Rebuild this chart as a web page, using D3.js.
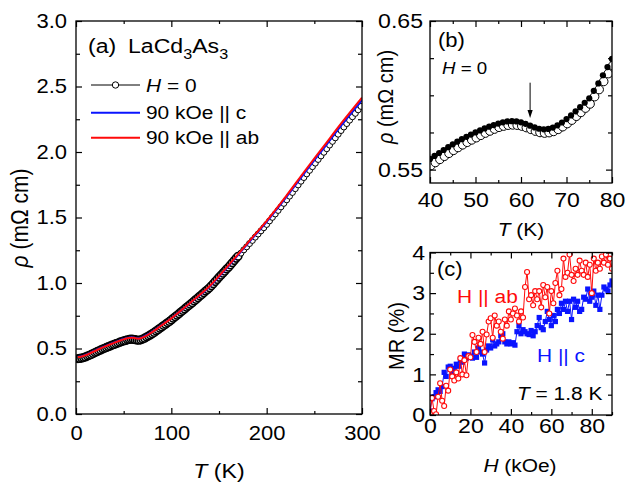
<!doctype html>
<html>
  <head>
    <script src="https://cdnjs.cloudflare.com/ajax/libs/d3/7.8.5/d3.min.js"></script>
    <style>
      body { margin: 0; background: #fff; }
      svg { display: block; }
    </style>
  </head>
  <body>
    <svg id="fig" width="626" height="485"></svg>
    <script>
      // ---- panel (a): rho(T) from 2 to 300 K ----
      var tZeroLow = d3.range(2, 171, 2);
      var rhoZeroLow = [
        .423, .424, .427, .431, .436, .442, .448, .455, .462, .469,
        .476, .483, .489, .496, .502, .508, .514, .520, .526, .531,
        .537, .542, .548, .553, .558, .562, .566, .569, .571, .570,
        .567, .564, .563, .566, .572, .579, .587, .595, .604, .613,
        .623, .633, .644, .654, .665, .675, .686, .696, .707, .718,
        .730, .742, .754, .766, .778, .790, .802, .814, .826, .838,
        .850, .863, .875, .888, .900, .913, .925, .938, .950, .963,
        .979, .995, 1.011, 1.027, 1.043, 1.059, 1.075, 1.090, 1.106, 1.121,
        1.138, 1.154, 1.171, 1.188, 1.204];
      var tZeroHigh = d3.range(173, 300, 3);
      var rhoZeroHigh = [
        1.228, 1.253, 1.276, 1.301, 1.325, 1.350, 1.374, 1.398, 1.422, 1.447,
        1.474, 1.501, 1.527, 1.554, 1.581, 1.608, 1.635, 1.663, 1.691, 1.720,
        1.749, 1.777, 1.805, 1.833, 1.860, 1.888, 1.915, 1.943, 1.970, 1.998,
        2.025, 2.053, 2.081, 2.108, 2.136, 2.164, 2.191, 2.217, 2.243, 2.269,
        2.295, 2.322, 2.348];

      var tField = [2, 5, 10, 15, 20, 25, 30, 35, 40, 45, 50, 55, 58, 60, 62, 64, 66, 68, 70, 75,
                    80, 90, 100, 120, 140, 160, 180, 200, 220, 240, 260, 280, 300];
      var rhoAb = [.435, .437, .448, .464, .481, .498, .514, .529, .543, .557, .570, .580, .583,
                   .582, .579, .576, .575, .578, .584, .603, .625, .677, .730, .850, .975, 1.135,
                   1.305, 1.475, 1.660, 1.855, 2.045, 2.235, 2.415];
      var rhoC = [.437, .439, .450, .466, .483, .500, .516, .531, .545, .559, .572, .582, .585,
                  .584, .581, .578, .577, .580, .586, .605, .627, .679, .731, .849, .972, 1.130,
                  1.298, 1.466, 1.649, 1.842, 2.030, 2.218, 2.395];

      // ---- panel (b): zoom 40-80 K, H = 0, two sweeps ----
      var tB = d3.range(40, 81);
      var rhoOpen = [
        .5527, .5548, .5569, .5590, .5610, .5630, .5649, .5667, .5684, .5700,
        .5715, .5731, .5746, .5760, .5773, .5785, .5793, .5799, .5801, .5799,
        .5793, .5783, .5771, .5759, .5750, .5746, .5749, .5757, .5771, .5789,
        .5810, .5833, .5859, .5885, .5914, .5942, .5991, .6039, .6093, .6146, .6200];
      var rhoFilled = [
        .5572, .5592, .5612, .5632, .5651, .5670, .5688, .5705, .5721, .5736,
        .5750, .5764, .5777, .5789, .5800, .5810, .5818, .5824, .5826, .5824,
        .5818, .5808, .5796, .5784, .5775, .5771, .5774, .5783, .5798, .5817,
        .5840, .5865, .5892, .5920, .5950, .5980, .6030, .6080, .6135, .6190, .6245];
      var arrowT = 62, arrowFrom = 0.6085, arrowTo = 0.5848;

      // ---- panel (c): MR(H) at 1.8 K ----
      var hC = d3.range(0, 91);
      var mrAb = [
        0.05, 0.42, 0.10, 0.02, 0.45, 0.78, 0.35, 0.22, 0.72, 0.60,
        1.12, 0.95, 0.85, 1.05, 0.90, 1.40, 1.00, 1.35, 0.98, 1.45,
        1.42, 1.97, 1.80, 1.55, 1.90, 1.75, 2.05, 1.55, 1.98, 2.30,
        2.38, 1.90, 2.45, 2.20, 2.30, 2.05, 1.88, 2.35, 2.20, 2.55,
        2.35, 2.50, 2.62, 2.45, 2.30, 2.55, 2.40, 3.15, 3.52, 2.85,
        2.95, 2.70, 3.05, 2.85, 3.05, 2.65, 3.20, 2.90, 3.15, 2.50,
        3.05, 2.75, 3.25, 3.55, 2.95, 3.10, 3.85, 3.40, 3.50, 3.95,
        3.45, 3.30, 3.60, 3.45, 3.80, 3.55, 3.45, 3.75, 3.40, 3.70,
        3.00, 3.85, 3.55, 3.75, 3.60, 3.90, 3.75, 3.95, 3.70, 3.85, 3.60];
      var mrC = [
        0.10, 0.40, 0.45, 0.55, 0.62, 0.58, 0.70, 1.05, 0.95, 1.18,
        1.20, 1.05, 1.15, 1.25, 1.20, 1.35, 1.30, 1.50, 1.40, 1.48,
        1.45, 1.40, 1.55, 1.42, 1.65, 1.55, 1.50, 1.28, 1.60, 1.70,
        1.65, 1.85, 1.70, 1.75, 1.80, 1.95, 2.00, 1.80, 1.75, 1.80,
        1.75, 1.78, 1.72, 2.05, 2.20, 2.00, 2.10, 2.05, 2.00, 1.98,
        2.08, 1.95, 2.05, 2.20, 2.40, 2.15, 2.10, 2.30, 2.55, 2.35,
        2.20, 2.45, 2.30, 2.60, 2.50, 2.75, 2.60, 2.80, 2.55, 2.80,
        2.35, 2.85, 2.65, 2.80, 2.55, 2.60, 2.90, 2.85, 3.10, 2.80,
        2.90, 3.05, 2.70, 2.95, 2.60, 2.95, 3.15, 3.10, 3.05, 3.20, 3.30];

      var RED = "#ff0a0a", BLUE = "#0a14ff";
      var FONT = "'Liberation Sans', Arial, Helvetica, sans-serif";
      var SX = 1.1; // the original figure is slightly stretched sideways

      var svg = d3.select("#fig");
      svg.append("rect").attr("width", 626).attr("height", 485).attr("fill", "#fff");

      var xa = d3.scaleLinear().domain([0, 300]).range([76, 362]);
      var ya = d3.scaleLinear().domain([0, 3]).range([414, 21]);
      var xb = d3.scaleLinear().domain([40, 80]).range([430, 612]);
      var yb = d3.scaleLinear().domain([0.541, 0.65]).range([183, 21]);
      var xc = d3.scaleLinear().domain([0, 90]).range([430, 612]);
      var yc = d3.scaleLinear().domain([0, 4]).range([415, 252.5]);

      function stretchTicks(sel) {
        sel.selectAll(".tick text").each(function() {
          var t = d3.select(this);
          var x = +t.attr("x") || 0, y = +t.attr("y") || 0;
          t.attr("x", null).attr("y", null)
            .attr("transform", "translate(" + x + "," + y + ") scale(" + SX + ",1)");
        });
      }

      function frame(x, y, o) {
        var x0 = x.range()[0], x1 = x.range()[1], y0 = y.range()[0], y1 = y.range()[1];
        var g = svg.append("g");
        function put(axis, tx, ty, labels) {
          var a = g.append("g").attr("transform", "translate(" + tx + "," + ty + ")").call(axis);
          a.select(".domain").remove();
          a.attr("font-family", FONT).attr("font-size", o.fs);
          a.selectAll("line").attr("stroke-width", 1.2);
          if (labels) stretchTicks(a); else a.selectAll("text").remove();
        }
        put(d3.axisBottom(x).tickValues(o.xMajor).tickSize(-6).tickPadding(o.xPad).tickFormat(o.xFmt), 0, y0, true);
        put(d3.axisBottom(x).tickValues(o.xMinor).tickSize(-3), 0, y0, false);
        put(d3.axisTop(x).tickValues(o.xMajor).tickSize(-6), 0, y1, false);
        put(d3.axisTop(x).tickValues(o.xMinor).tickSize(-3), 0, y1, false);
        put(d3.axisLeft(y).tickValues(o.yMajor).tickSize(-6).tickPadding(o.yPad).tickFormat(o.yFmt), x0, 0, true);
        put(d3.axisLeft(y).tickValues(o.yMinor).tickSize(-4), x0, 0, false);
        put(d3.axisRight(y).tickValues(o.yMajor).tickSize(-6), x1, 0, false);
        put(d3.axisRight(y).tickValues(o.yMinor).tickSize(-4), x1, 0, false);
        g.append("rect").attr("x", x0).attr("y", y1).attr("width", x1 - x0).attr("height", y0 - y1)
          .attr("fill", "none").attr("stroke", "#000").attr("stroke-width", 1.3);
      }

      // text with italic / subscript pieces: [["H", "i"], [" = 0"]]
      function txt(x, y, parts, o) {
        o = o || {};
        var fs = o.fs || 20;
        var tr = "translate(" + x + "," + y + ") " +
          (o.rot ? "rotate(-90) scale(1," + SX + ")" : "scale(" + SX + ",1)");
        var t = svg.append("text").attr("transform", tr)
          .attr("font-family", FONT).attr("font-size", fs)
          .attr("text-anchor", o.anchor || "start").attr("fill", o.fill || "#000");
        var shift = 0;
        parts.forEach(function(p) {
          var s = t.append("tspan").text(p[0]);
          var want = 0;
          if (p[1] === "i") s.attr("font-style", "italic");
          if (p[1] === "sub") { s.attr("font-size", fs * 0.7); want = fs * 0.28; }
          if (want !== shift) { s.attr("dy", want - shift); shift = want; }
        });
      }

      function clip(id, x, y) {
        svg.append("clipPath").attr("id", id).append("rect")
          .attr("x", x.range()[0]).attr("y", y.range()[1])
          .attr("width", x.range()[1] - x.range()[0]).attr("height", y.range()[0] - y.range()[1]);
        return svg.append("g").attr("clip-path", "url(#" + id + ")");
      }

      // ================= (a) =================
      var zeroA = tZeroLow.map(function(t, i) { return [t, rhoZeroLow[i]]; })
        .concat(tZeroHigh.map(function(t, i) { return [t, rhoZeroHigh[i]]; }));
      var ga = clip("ca", xa, ya);
      ga.selectAll("circle.zero").data(zeroA).enter().append("circle")
        .attr("cx", function(d) { return xa(d[0]); })
        .attr("cy", function(d) { return ya(d[1]); })
        .attr("r", function(d) { return d[0] < 171 ? 3.8 : 3; })
        .attr("fill", "#fff").attr("stroke", "#000")
        .attr("stroke-width", function(d) { return d[0] < 171 ? 1.6 : 1; });

      var lineA = d3.line().curve(d3.curveMonotoneX)
        .x(function(d, i) { return xa(tField[i]); })
        .y(function(d) { return ya(d); });
      ga.append("path").datum(rhoC).attr("d", lineA)
        .attr("fill", "none").attr("stroke", BLUE).attr("stroke-width", 2);
      ga.append("path").datum(rhoAb).attr("d", lineA)
        .attr("fill", "none").attr("stroke", RED).attr("stroke-width", 2);

      frame(xa, ya, {
        fs: 20, xMajor: [0, 100, 200, 300], xMinor: [50, 150, 250], xPad: 12, xFmt: d3.format("d"),
        yMajor: d3.range(0, 3.01, 0.5), yMinor: d3.range(0.25, 3, 0.5), yPad: 9, yFmt: d3.format(".1f")
      });

      txt(88, 53, [["(a)"]], { fs: 21 });
      txt(128, 53, [["LaCd"], ["3", "sub"], ["As"], ["3", "sub"]], { fs: 21 });

      // legend
      var leg = [
        { y: 85, color: "#000", w: 1, parts: [["H", "i"], [" = 0"]] },
        { y: 112.7, color: BLUE, w: 2, parts: [["90 kOe || c"]] },
        { y: 137.7, color: RED, w: 2, parts: [["90 kOe || ab"]] }
      ];
      leg.forEach(function(l, i) {
        svg.append("line").attr("x1", 91).attr("x2", 140).attr("y1", l.y).attr("y2", l.y)
          .attr("stroke", l.color).attr("stroke-width", l.w);
        if (i === 0) svg.append("circle").attr("cx", 115.5).attr("cy", l.y).attr("r", 3.2)
          .attr("fill", "#fff").attr("stroke", "#000");
        txt(146, l.y + 6.6, l.parts, { fs: 19 });
      });

      txt(219, 478, [["T", "i"], [" (K)"]], { fs: 21, anchor: "middle" });
      txt(28, 218, [["\u03c1", "i"], [" (m\u03a9 cm)"]], { fs: 21, anchor: "middle", rot: true });

      // ================= (b) =================
      var gb = clip("cb", xb, yb);
      gb.selectAll("circle.open").data(rhoOpen).enter().append("circle")
        .attr("cx", function(d, i) { return xb(tB[i]) + 0.8; })
        .attr("cy", function(d) { return yb(d); })
        .attr("r", 4.3).attr("fill", "#fff").attr("stroke", "#000").attr("stroke-width", 1);
      gb.selectAll("circle.filled").data(rhoFilled).enter().append("circle")
        .attr("cx", function(d, i) { return xb(tB[i]); })
        .attr("cy", function(d) { return yb(d); })
        .attr("r", 3.1).attr("fill", "#000");

      frame(xb, yb, {
        fs: 21, xMajor: [40, 50, 60, 70, 80], xMinor: [45, 55, 65, 75], xPad: 9, xFmt: d3.format("d"),
        yMajor: [0.55, 0.65], yMinor: [0.575, 0.6, 0.625], yPad: 7, yFmt: d3.format(".2f")
      });

      // arrow marking the anomaly
      var ax = xb(arrowT), ay0 = yb(arrowFrom), ay1 = yb(arrowTo);
      svg.append("line").attr("x1", ax).attr("x2", ax).attr("y1", ay0).attr("y2", ay1 - 6)
        .attr("stroke", "#000").attr("stroke-width", 1);
      svg.append("path")
        .attr("d", "M" + (ax - 2.6) + "," + (ay1 - 8) + "L" + ax + "," + ay1 + "L" + (ax + 2.6) + "," + (ay1 - 8) + "Z")
        .attr("fill", "#000");

      txt(438, 47, [["(b)"]], { fs: 20 });
      txt(442, 74, [["H", "i"], [" = 0"]], { fs: 17 });
      txt(521, 236, [["T", "i"], [" (K)"]], { fs: 19, anchor: "middle" });
      txt(393, 97, [["\u03c1", "i"], [" (m\u03a9 cm)"]], { fs: 20, anchor: "middle", rot: true });

      // ================= (c) =================
      var gc = clip("cc", xc, yc);
      var lineC = d3.line().x(function(d, i) { return xc(hC[i]); }).y(function(d) { return yc(d); });
      gc.append("path").datum(mrC).attr("d", lineC)
        .attr("fill", "none").attr("stroke", BLUE).attr("stroke-width", 1);
      gc.selectAll("rect.sq").data(mrC).enter().append("rect")
        .attr("x", function(d, i) { return xc(hC[i]) - 2.6; })
        .attr("y", function(d) { return yc(d) - 2.6; })
        .attr("width", 5.2).attr("height", 5.2).attr("fill", BLUE);
      gc.append("path").datum(mrAb).attr("d", lineC)
        .attr("fill", "none").attr("stroke", RED).attr("stroke-width", 1);
      gc.selectAll("circle.ab").data(mrAb).enter().append("circle")
        .attr("cx", function(d, i) { return xc(hC[i]); })
        .attr("cy", function(d) { return yc(d); })
        .attr("r", 2.5).attr("fill", "#fff").attr("stroke", RED).attr("stroke-width", 1.1);

      frame(xc, yc, {
        fs: 21, xMajor: [0, 20, 40, 60, 80], xMinor: [10, 30, 50, 70, 90], xPad: 3, xFmt: d3.format("d"),
        yMajor: [0, 1, 2, 3, 4], yMinor: [0.5, 1.5, 2.5, 3.5], yPad: 5, yFmt: d3.format("d")
      });

      txt(437, 276, [["(c)"]], { fs: 20 });
      txt(457, 303, [["H || ab"]], { fs: 19, fill: RED });
      txt(537, 362, [["H || c"]], { fs: 19, fill: BLUE });
      txt(517, 400, [["T", "i"], [" = 1.8 K"]], { fs: 19 });
      txt(520, 472, [["H", "i"], [" (kOe)"]], { fs: 19, anchor: "middle" });
      txt(404, 336, [["MR (%)"]], { fs: 20, anchor: "middle", rot: true });
    </script>
  </body>
</html>
